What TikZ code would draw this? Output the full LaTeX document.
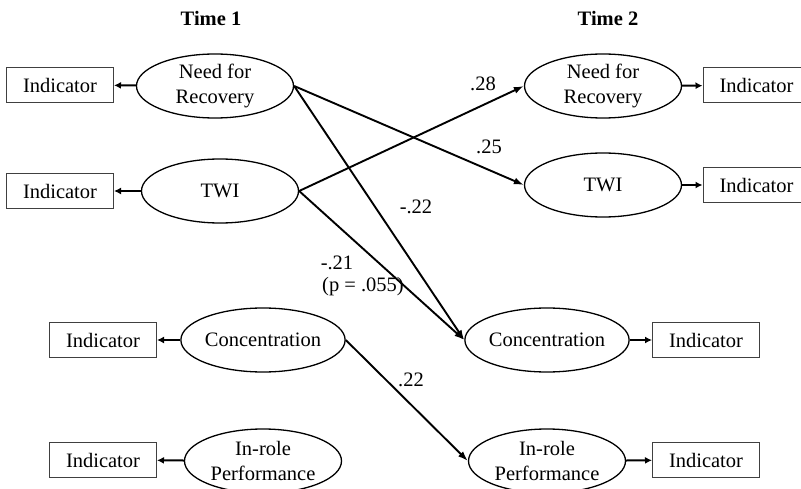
\documentclass[tikz,border=0pt]{standalone}
\usepackage{fontspec}
\setmainfont{Liberation Serif}
\usetikzlibrary{shapes.geometric,arrows.meta}
\begin{document}
\begin{tikzpicture}[x=1pt,y=-1pt,
  every node/.style={font=\fontsize{20.5}{25}\selectfont},
  latent/.style={ellipse,draw,line width=1.3pt,minimum width=157pt,minimum height=64pt,inner sep=0pt,align=center},
  indic/.style={rectangle,draw=black!75,line width=1pt,minimum width=107pt,minimum height=35pt,inner sep=0pt},
  load/.style={line width=2pt,-{Latex[length=7pt,width=7pt]}},
  path/.style={line width=1.9pt,-{Latex[length=10pt,width=7pt]}},
  coef/.style={inner sep=0pt,align=left},
  title/.style={font=\fontsize{20.5}{25}\selectfont\bfseries}]
\useasboundingbox (0,0) rectangle (801,489);
% titles
\node[title] (t1) at (211,18) {Time 1};
\node[title] (t2) at (608,18) {Time 2};
% time 1
\node[latent] (n1) at (215,86) {Need for\\Recovery};
\node[latent] (w1) at (220,191) {TWI};
\node[latent] (c1) at (263,340) {Concentration};
\node[latent] (p1) at (263,461) {In-role\\Performance};
\node[indic] (in1) at (60,85) {Indicator};
\node[indic] (iw1) at (60,191) {Indicator};
\node[indic] (ic1) at (103,340) {Indicator};
\node[indic] (ip1) at (103,460) {Indicator};
% time 2
\node[latent] (n2) at (603,86) {Need for\\Recovery};
\node[latent] (w2) at (603,185) {TWI};
\node[latent] (c2) at (547,340) {Concentration};
\node[latent] (p2) at (547,461) {In-role\\Performance};
\node[indic] (in2) at (756.5,85.5) {Indicator};
\node[indic] (iw2) at (756.5,185) {Indicator};
\node[indic] (ic2) at (706,340) {Indicator};
\node[indic] (ip2) at (706,460) {Indicator};
% loadings
\draw[load] (n1) -- (in1);
\draw[load] (w1) -- (iw1);
\draw[load] (c1) -- (ic1);
\draw[load] (p1) -- (ip1);
\draw[load] (n2) -- (in2);
\draw[load] (w2) -- (iw2);
\draw[load] (c2) -- (ic2);
\draw[load] (p2) -- (ip2);
% paths
\draw[path] (n1.east) -- (w2.west);
\draw[path] (n1.east) -- (c2.west);
\draw[path] (w1.east) -- (n2.west);
\draw[path] (w1.east) -- (c2.west);
\draw[path] (c1.east) -- (p2.west);
% coefficients
\node[coef] (k28) at (483,84) {.28};
\node[coef] (k25) at (489,147) {.25};
\node[coef] (k22a) at (416,207) {-.22};
\node[coef] (k21) at (337,263) {-.21};
\node[coef] (kp) at (363,287) {(p = .055)};
\node[coef] (k22b) at (411,380) {.22};
\end{tikzpicture}
\end{document}
